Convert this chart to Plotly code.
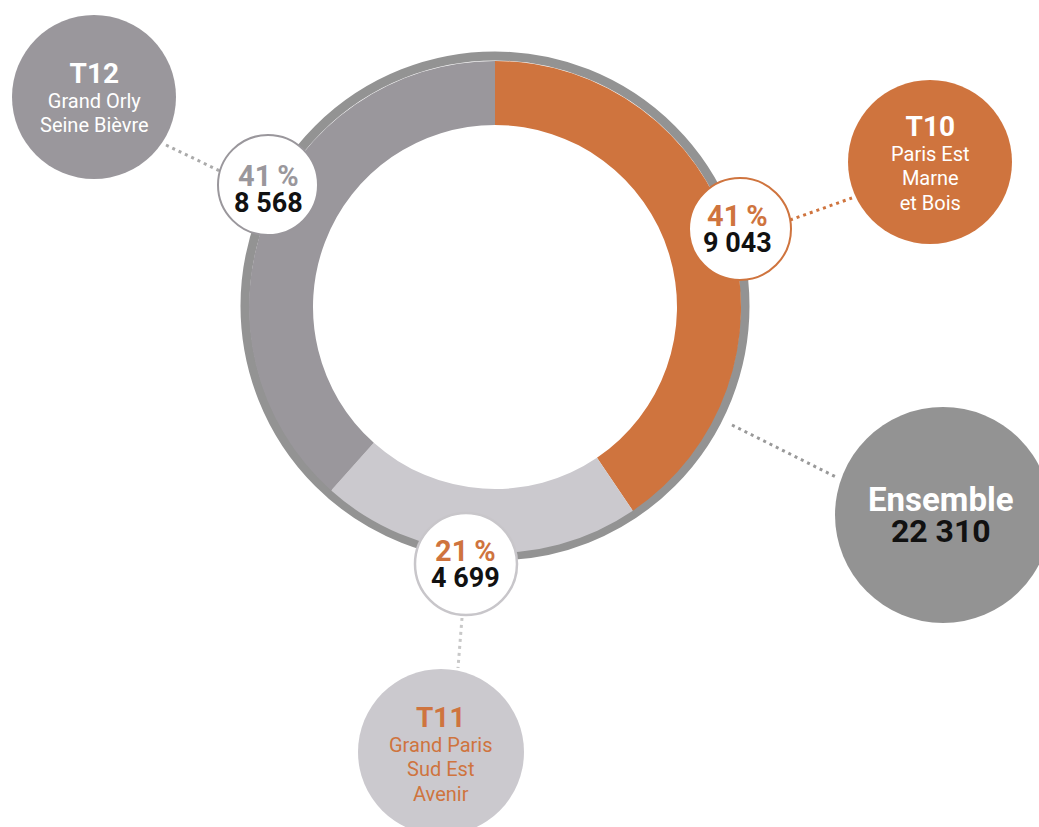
import plotly.graph_objects as go

# data
territoires = ["T10", "T11", "T12"]
noms = [["Paris Est", "Marne", "et Bois"], ["Grand Paris", "Sud Est", "Avenir"], ["Grand Orly", "Seine Bièvre"]]
effectifs = [9043, 4699, 8568]
pourcentages = ["41\u2009%", "21\u2009%", "41\u2009%"]
effectifs_txt = ["9 043", "4 699", "8 568"]
total_txt = "22 310"

ORANGE = "#cf743e"
GRIS_F = "#9a979c"
GRIS_C = "#cbc9ce"
GRIS_R = "#939393"
NOIR = "#111111"
couleurs = [ORANGE, GRIS_C, GRIS_F]
W, H = 1039, 827
FONT = "Roboto"

fig = go.Figure()

cx, cy, r = 495, 307, 246
fig.add_trace(go.Pie(
    labels=territoires, values=effectifs, sort=False, direction="clockwise",
    rotation=0, hole=182 / 246, textinfo="none", hoverinfo="label+value",
    marker=dict(colors=couleurs, line=dict(width=0)),
    domain=dict(x=[(cx - r) / W, (cx + r) / W], y=[(H - cy - r) / H, (H - cy + r) / H]),
    showlegend=False,
))

shapes = []
# grey outer ring
shapes.append(dict(type="circle", xref="x", yref="y", x0=cx - 250, x1=cx + 250, y0=cy - 251, y1=cy + 249,
                   line=dict(color=GRIS_R, width=9), layer="below"))


def disque(x, y, rr, fill, line_col=None, lw=0):
    shapes.append(dict(type="circle", xref="x", yref="y", x0=x - rr, x1=x + rr, y0=y - rr, y1=y + rr,
                       fillcolor=fill, line=dict(color=line_col or fill, width=lw), layer="above"))


def pointilles(x0, y0, x1, y1, col):
    shapes.append(dict(type="line", xref="x", yref="y", x0=x0, y0=y0, x1=x1, y1=y1,
                       line=dict(color=col, width=3, dash="3px,4px"), layer="above"))


# dotted connectors
pointilles(166, 145, 222, 172, "#aaaaaa")
pointilles(790, 220, 852, 198, ORANGE)
pointilles(732, 425, 838, 478, "#999999")
pointilles(462, 618, 458, 668, "#c8c8c8")

# big bubbles
disque(94, 97, 82, GRIS_F)
disque(930, 162, 82, ORANGE)
disque(943, 515, 108, GRIS_R)
disque(441, 752, 83, GRIS_C)

# value bubbles on the ring
disque(268, 185, 50, "white", GRIS_F, 2)
disque(740, 229, 51, "white", ORANGE, 2)
disque(466, 564, 51, "white", "#c8c6ca", 2.5)

ann = []


def bloc(x, y, lignes, base):
    # lignes: list of (text, size, colour, bold); line pitch = 1.3 * base
    parts = []
    for t, s, c, b in lignes:
        t = f"<b>{t}</b>" if b else t
        parts.append(f"<span style='font-size:{s}px;color:{c}'>{t}</span>")
    ann.append(dict(x=x, y=y, xref="x", yref="y", text="<br>".join(parts), showarrow=False,
                    font=dict(family=FONT, size=base, color="black"), xanchor="center", yanchor="middle"))


# territory bubbles
bloc(94, 97, [(territoires[2], 28, "white", True)] + [(l, 20, "white", False) for l in noms[2]], 19)
bloc(930, 162, [(territoires[0], 28, "white", True)] + [(l, 20, "white", False) for l in noms[0]], 19)
bloc(441, 753, [(territoires[1], 28, ORANGE, True)] + [(l, 20, ORANGE, False) for l in noms[1]], 19)
bloc(941, 515, [("Ensemble", 33, "white", True), (total_txt, 32, NOIR, True)], 24)

# values
bloc(268, 189, [(pourcentages[2], 29, GRIS_F, True), (effectifs_txt[2], 27, NOIR, True)], 20)
bloc(737, 229, [(pourcentages[0], 29, ORANGE, True), (effectifs_txt[0], 27, NOIR, True)], 20)
bloc(465, 564, [(pourcentages[1], 29, ORANGE, True), (effectifs_txt[1], 27, NOIR, True)], 20)

fig.update_layout(
    width=W, height=H, margin=dict(l=0, r=0, t=0, b=0),
    paper_bgcolor="white", plot_bgcolor="white",
    shapes=shapes, annotations=ann,
    xaxis=dict(range=[0, W], visible=False, fixedrange=True),
    yaxis=dict(range=[H, 0], visible=False, fixedrange=True),
)
fig.write_html("out.html", config={"displayModeBar": False},
               post_script="document.body.style.margin='0';document.body.style.overflow='hidden';")
